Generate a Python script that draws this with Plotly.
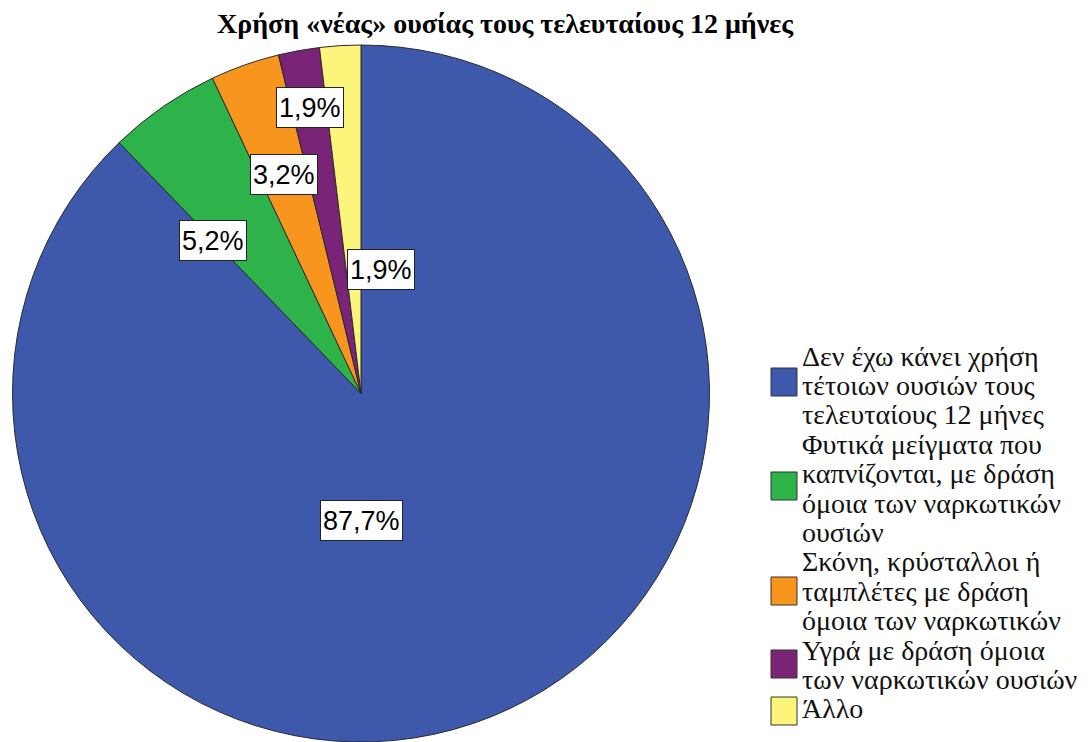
import math
import plotly.graph_objects as go

# data
categories = [
    "Δεν έχω κάνει χρήση τέτοιων ουσιών τους τελευταίους 12 μήνες",
    "Φυτικά μείγματα που καπνίζονται, με δράση όμοια των ναρκωτικών ουσιών",
    "Σκόνη, κρύσταλλοι ή ταμπλέτες με δράση όμοια των ναρκωτικών",
    "Υγρά με δράση όμοια των ναρκωτικών ουσιών",
    "Άλλο",
]
legend_lines = [
    ["Δεν έχω κάνει χρήση", "τέτοιων ουσιών τους", "τελευταίους 12 μήνες"],
    ["Φυτικά μείγματα που", "καπνίζονται, με δράση", "όμοια των ναρκωτικών", "ουσιών"],
    ["Σκόνη, κρύσταλλοι ή", "ταμπλέτες με δράση", "όμοια των ναρκωτικών"],
    ["Υγρά με δράση όμοια", "των ναρκωτικών ουσιών"],
    ["Άλλο"],
]
percent = [87.7, 5.2, 3.2, 1.9, 1.9]

COLORS = ["#3E58AC", "#2EB24A", "#F7951E", "#7A2478", "#FBF57B"]
SERIF = "Liberation Serif"
SANS = "Liberation Sans"

# page has an 8px body margin; figure sized so it fits in the window
OFF = 8
W, H = 1080, 734


def px(x):
    return (x - OFF) / W


def py(y):
    return 1 - (y - OFF) / H


PIE_X = [px(11), px(711)]
PIE_Y = [0.0, py(45)]

# label placement (SPSS-style nudges): radial fraction, angular shift in degrees
_label_r = [0.363, 0.612, 0.665, 0.834, 0.361]
_label_shift = [21.6, -9.5, 0.0, 0.1, 12.4]

fig = go.Figure(go.Pie(
    labels=categories,
    values=percent,
    sort=False,
    direction="clockwise",
    rotation=0,
    marker=dict(colors=COLORS, line=dict(color="#2a2a2a", width=1)),
    textinfo="none",
    hoverinfo="label+percent",
    showlegend=False,
    domain=dict(x=PIE_X, y=PIE_Y),
))

# pie geometry in figure pixels
cx = (PIE_X[0] + PIE_X[1]) / 2 * W
rad = min((PIE_X[1] - PIE_X[0]) * W, (PIE_Y[1] - PIE_Y[0]) * H) / 2
cy = H - (PIE_Y[0] + PIE_Y[1]) / 2 * H

total = sum(percent)
cum = 0.0
for i, v in enumerate(percent):
    mid = (cum + v / 2) / total * 360 + _label_shift[i]
    cum += v
    lx = cx + _label_r[i] * rad * math.sin(math.radians(mid))
    ly = cy - _label_r[i] * rad * math.cos(math.radians(mid))
    fig.add_annotation(
        x=lx / W, y=1 - ly / H, xref="paper", yref="paper",
        xanchor="center", yanchor="middle",
        text=f"{v:.1f}%".replace(".", ","), showarrow=False,
        font=dict(family=SANS, size=27, color="black"),
        height=35,
        bgcolor="white", bordercolor="#222", borderwidth=1, borderpad=2,
    )

# custom legend (large squares, tight serif lines like the SPSS output)
_sq_y = [382, 486, 591, 664, 711]
_base0, _step = 365, 29.4
k = 0
for i, lines in enumerate(legend_lines):
    yc = _sq_y[i]
    fig.add_shape(
        type="rect", xref="paper", yref="paper",
        x0=px(771), x1=px(797), y0=py(yc + 14), y1=py(yc - 14),
        fillcolor=COLORS[i], line=dict(color="#333", width=1),
    )
    for line in lines:
        base = _base0 + _step * k
        k += 1
        fig.add_annotation(
            x=px(800), y=py(base - 9), xref="paper", yref="paper",
            text=line, showarrow=False, xanchor="left", yanchor="middle",
            font=dict(family=SERIF, size=28, color="#111"),
        )

fig.update_layout(
    width=W, height=H,
    margin=dict(l=0, r=0, t=0, b=0),
    paper_bgcolor="white",
    plot_bgcolor="white",
    title=dict(
        text="<b>Χρήση «νέας» ουσίας τους τελευταίους 12 μήνες</b>",
        x=px(505), xanchor="center", y=py(23), yanchor="middle",
        font=dict(family=SERIF, size=28, color="black"),
    ),
)

fig.write_html("out.html")
